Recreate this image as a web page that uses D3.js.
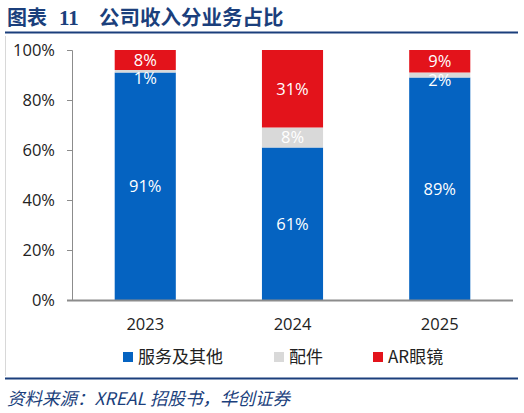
<!DOCTYPE html>
<html>
<head>
<meta charset="utf-8">
<script src="https://cdn.jsdelivr.net/npm/d3@7"></script>
<style>
  body { margin: 0; background: #fff; }
  svg { display: block; font-family: "Noto Sans CJK SC", "Open Sans", sans-serif; }
</style>
</head>
<body>
<svg id="chart" width="524" height="413"></svg>
<script>
var years = ["2023", "2024", "2025"];
var seriesNames = ["服务及其他", "配件", "AR眼镜"];
var service = [91, 61, 89];
var accessory = [1, 8, 2];
var arGlasses = [8, 31, 9];
var yTicks = [0, 20, 40, 60, 80, 100];

var colors = ["#0563C1", "#D9D9D9", "#E3131B"];

var svg = d3.select("svg#chart");
var navy = "#1B3F7C";

// header
svg.append("text")
    .attr("x", 7).attr("y", 25)
    .attr("fill", navy)
    .style("font-size", "20px").style("font-weight", "bold")
    .text("图表");
svg.append("text")
    .attr("x", 59).attr("y", 25)
    .attr("fill", navy)
    .style("font-size", "21px").style("font-weight", "bold")
    .style("font-family", "'Liberation Serif', serif")
    .text("11");
svg.append("text")
    .attr("x", 99).attr("y", 25)
    .attr("fill", navy)
    .style("font-size", "20.5px").style("font-weight", "bold")
    .text("公司收入分业务占比");
svg.append("line")
    .attr("x1", 5).attr("x2", 518).attr("y1", 32.5).attr("y2", 32.5)
    .attr("stroke", navy).attr("stroke-width", 2);
svg.append("line")
    .attr("x1", 5.5).attr("x2", 5.5).attr("y1", 36).attr("y2", 376)
    .attr("stroke", "#d8d8d8");
svg.append("line")
    .attr("x1", 5).attr("x2", 518).attr("y1", 378.5).attr("y2", 378.5)
    .attr("stroke", navy).attr("stroke-width", 2);
svg.append("text")
    .attr("x", 7).attr("y", 405)
    .attr("fill", navy)
    .style("font-size", "17.5px").style("font-style", "italic")
    .text("资料来源：XREAL 招股书，华创证券");

// data table
var data = years.map(function(y, i) {
  return { year: y, "服务及其他": service[i], "配件": accessory[i], "AR眼镜": arGlasses[i] };
});
var stack = d3.stack().keys(seriesNames);
var layers = stack(data);

var x = d3.scaleBand().domain(years).range([72, 513]).paddingInner(0.585).paddingOuter(0.29);
var y = d3.scaleLinear().domain([0, 100]).range([300, 50]);

var g = svg.append("g");

// y axis
var yAxis = g.append("g")
    .attr("transform", "translate(72,0)")
    .call(d3.axisLeft(y).tickValues(yTicks).tickSize(5).tickPadding(12)
      .tickFormat(function(d) { return d + "%"; }));
yAxis.select(".domain").attr("stroke", "#8c8c8c");
yAxis.selectAll(".tick line").attr("stroke", "#8c8c8c");
yAxis.selectAll("text")
    .attr("fill", "#222")
    .style("font-size", "16.5px")
    .style("font-family", "'Open Sans', sans-serif");

// bars
var layer = g.selectAll(".layer")
    .data(layers)
    .enter().append("g")
      .attr("class", "layer")
      .attr("fill", function(d, i) { return colors[i]; });

layer.selectAll("rect")
    .data(function(d) { return d; })
    .enter().append("rect")
      .attr("x", function(d) { return x(d.data.year); })
      .attr("width", x.bandwidth())
      .attr("y", function(d) { return y(d[1]); })
      .attr("height", function(d) { return y(d[0]) - y(d[1]); });

// labels
layer.selectAll("text")
    .data(function(d) { return d.map(function(p) { p.key = d.key; return p; }); })
    .enter().append("text")
      .attr("x", function(d) { return x(d.data.year) + x.bandwidth() / 2; })
      .attr("y", function(d) {
        var mid = (y(d[0]) + y(d[1])) / 2;
        return Math.max(mid, y(d[1]) + 8);
      })
      .attr("dy", "0.36em")
      .attr("text-anchor", "middle")
      .attr("fill", "#fff")
      .style("font-size", "16.5px")
      .style("font-family", "'Open Sans', sans-serif")
      .text(function(d) { return d.data[d.key] + "%"; });

// x axis
var xAxis = g.append("g")
    .attr("transform", "translate(0,300.5)")
    .call(d3.axisBottom(x).tickSize(0).tickPadding(18));
xAxis.select(".domain").attr("stroke", "#8c8c8c").attr("stroke-width", 2)
    .attr("d", "M67,0H513");
xAxis.selectAll("text")
    .attr("fill", "#222")
    .style("font-size", "16.5px")
    .style("font-family", "'Open Sans', sans-serif");

// legend
var legendX = [123, 274, 373];
var legend = svg.selectAll(".legend")
    .data(seriesNames)
    .enter().append("g")
      .attr("class", "legend")
      .attr("transform", function(d, i) { return "translate(" + legendX[i] + ",357)"; });
legend.append("rect")
    .attr("x", 0).attr("y", -5).attr("width", 10).attr("height", 10)
    .attr("fill", function(d, i) { return colors[i]; });
legend.append("text")
    .attr("x", 15).attr("y", 0).attr("dy", "0.35em")
    .attr("fill", "#222")
    .style("font-size", "17px")
    .text(function(d) { return d; });
</script>
</body>
</html>
